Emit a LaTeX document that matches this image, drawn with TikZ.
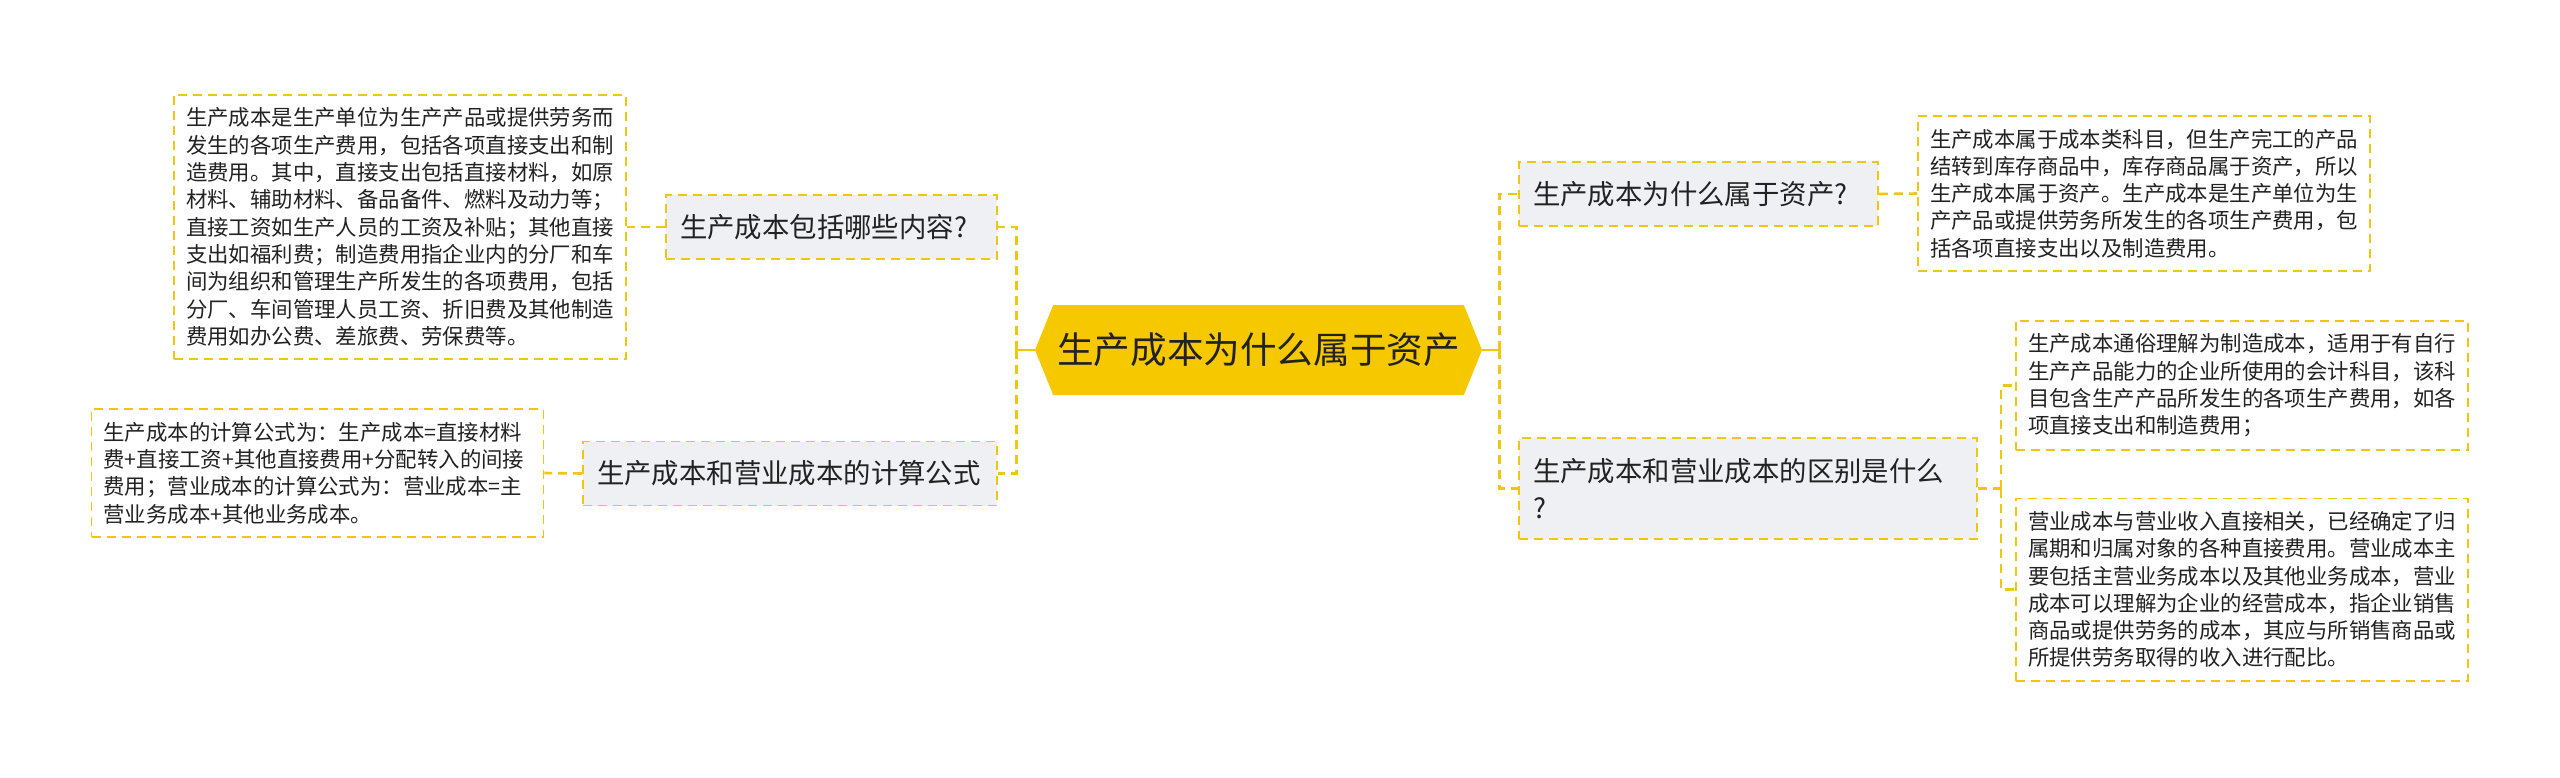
\documentclass[tikz,border=0pt]{standalone}
\usepackage{fontspec}
\setmainfont{Noto Sans CJK SC}
\usepackage{tikz}
\usetikzlibrary{shapes.symbols}

\definecolor{mapyellow}{RGB}{240,198,20}
\definecolor{hubgold}{RGB}{245,200,0}
\definecolor{topicgray}{RGB}{238,240,243}
\definecolor{inktext}{RGB}{34,34,34}

\begin{document}
\begin{tikzpicture}[x=1pt, y=-1pt,
    hub/.style={signal, signal to=west and east, signal pointer angle=136,
      fill=hubgold, draw=none, minimum width=447pt, minimum height=90pt,
      text=inktext, font=\fontsize{36.6}{44}\selectfont},
    topic/.style={draw=mapyellow, fill=topicgray, line width=1.6pt,
      dash pattern=on 9pt off 6pt, text=inktext, minimum height=64pt, align=left,
      font=\fontsize{27.4}{37}\selectfont, inner xsep=14pt},
    leaf/.style={draw=mapyellow, fill=white, line width=1.6pt,
      dash pattern=on 9pt off 6pt, text=inktext, text width=428pt, align=left,
      font=\fontsize{21.4}{27.3}\selectfont, inner xsep=12pt, inner ysep=13pt},
    link/.style={draw=mapyellow, line width=2.6pt, dash pattern=on 9pt off 6pt}]
  \useasboundingbox[fill=white] (0,0) rectangle (2560,777);

  % Centre
  \node[hub] (hub) at (1258.5,350) {生产成本为什么属于资产};

  % Left topics
  \node[topic, text width=303pt] (incl) at (831.5,227) {生产成本包括哪些内容?};
  \node[topic, text width=386pt] (calc) at (790,473.5) {生产成本和营业成本的计算公式};

  % Right topics
  \node[topic, text width=331pt] (asset) at (1698.5,194) {生产成本为什么属于资产?};
  \node[topic, text width=430pt, minimum height=101pt] (diff) at (1748,488.5)
    {生产成本和营业成本的区别是什么\\?};

  % Notes
  \node[leaf] (inclnote) at (400,227) {生产成本是生产单位为生产产品或提供劳务而\\
    发生的各项生产费用，包括各项直接支出和制\\
    造费用。其中，直接支出包括直接材料，如原\\
    材料、辅助材料、备品备件、燃料及动力等；\\
    直接工资如生产人员的工资及补贴；其他直接\\
    支出如福利费；制造费用指企业内的分厂和车\\
    间为组织和管理生产所发生的各项费用，包括\\
    分厂、车间管理人员工资、折旧费及其他制造\\
    费用如办公费、差旅费、劳保费等。};
  \node[leaf] (calcnote) at (317.5,473) {生产成本的计算公式为：生产成本=直接材料\\
    费+直接工资+其他直接费用+分配转入的间接\\
    费用；营业成本的计算公式为：营业成本=主\\
    营业务成本+其他业务成本。};
  \node[leaf] (assetnote) at (2144,193.5) {生产成本属于成本类科目，但生产完工的产品\\
    结转到库存商品中，库存商品属于资产，所以\\
    生产成本属于资产。生产成本是生产单位为生\\
    产产品或提供劳务所发生的各项生产费用，包\\
    括各项直接支出以及制造费用。};
  \node[leaf] (mfgnote) at (2242,385.5) {生产成本通俗理解为制造成本，适用于有自行\\
    生产产品能力的企业所使用的会计科目，该科\\
    目包含生产产品所发生的各项生产费用，如各\\
    项直接支出和制造费用；};
  \node[leaf] (opnote) at (2242,589.5) {营业成本与营业收入直接相关，已经确定了归\\
    属期和归属对象的各种直接费用。营业成本主\\
    要包括主营业务成本以及其他业务成本，营业\\
    成本可以理解为企业的经营成本，指企业销售\\
    商品或提供劳务的成本，其应与所销售商品或\\
    所提供劳务取得的收入进行配比。};

  % Links from the centre
  \coordinate (ltrunk) at ([xshift=-18pt]hub.west);
  \coordinate (rtrunk) at ([xshift=17pt]hub.east);
  \draw[link, solid] (hub.west) -- (ltrunk);
  \draw[link] (ltrunk) |- (incl.east);
  \draw[link] (ltrunk) |- (calc.east);
  \draw[link, solid] (hub.east) -- (rtrunk);
  \draw[link] (rtrunk) |- (asset.west);
  \draw[link] (rtrunk) |- (diff.west);

  % Links to the notes
  \draw[link] (incl.west) -- (inclnote.east);
  \draw[link] (calc.west) -- (calcnote.east);
  \draw[link] (asset.east) -- (assetnote.west);
  \coordinate (dtrunk) at ([xshift=23pt]diff.east);
  \draw[link] (diff.east) -- (dtrunk);
  \draw[link] (dtrunk) |- (mfgnote.west);
  \draw[link] (dtrunk) |- (opnote.west);
\end{tikzpicture}
\end{document}
